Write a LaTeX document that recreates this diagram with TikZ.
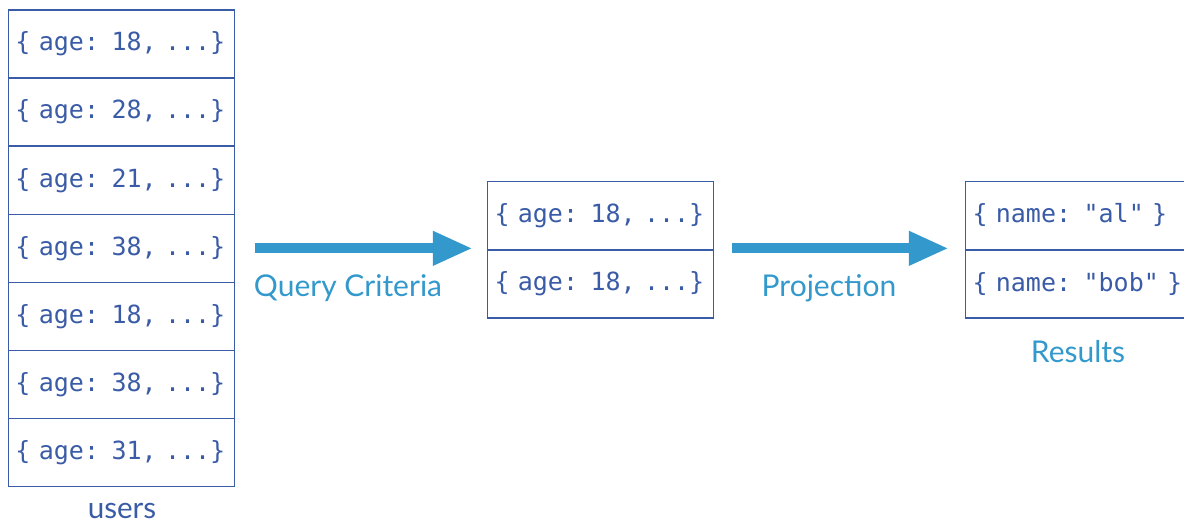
\documentclass[tikz,border=0pt]{standalone}
\usepackage{fontspec}
\setmainfont{Lato}
\setmonofont{DejaVu Sans Mono}
\usetikzlibrary{arrows.meta}
\definecolor{docblue}{HTML}{3A5BA6}
\definecolor{flowblue}{HTML}{3399CC}
\tikzset{
    rec/.style={draw=docblue, line width=0.75pt, text=docblue, font=\ttfamily\fontsize{12.5}{14}\selectfont,
        text width=106pt, inner xsep=3.5pt, minimum height=34pt, align=left},
    bigarrow/.style={draw=flowblue, line width=5pt, -{Triangle[length=20pt, width=16pt]}},
    flowlabel/.style={text=flowblue, font=\fontsize{15}{17}\selectfont},
}
\begin{document}
\begin{tikzpicture}[x=0.5pt, y=-0.5pt]
    \useasboundingbox (0,0) rectangle (1184,525);
    % users collection
    \foreach \age [count=\j] in {18, 28, 21, 38, 18, 38, 31} {
        \node[rec] (u\j) at (121.5, {10 + 68.1*(\j-0.5)}) {\{ age: \age, ...\}};
    }
    \node[text=docblue, font=\fontsize{14.8}{17}\selectfont] (users) at (122, 511) {users};
    % matched documents
    \foreach \age [count=\j] in {18, 18} {
        \node[rec] (m\j) at (600.5, {181 + 68.5*(\j-0.5)}) {\{ age: \age, ...\}};
    }
    % projected documents
    \foreach \who [count=\j] in {al, bob} {
        \node[rec, text width=118pt] (r\j) at (1090.5, {181 + 68.5*(\j-0.5)}) {\{ name: "\who" \}};
    }
    \node[flowlabel] (results) at (1078, 352) {Results};

    \draw[bigarrow, shorten <=10pt, shorten >=7pt] (u4.east) -- (u4.east -| m1.west);
    \draw[bigarrow, shorten <=9pt, shorten >=8pt] (u4.east -| m1.east) -- (u4.east -| r1.west);
    \node[flowlabel] (query) at (348, 288) {Query Criteria};
    \node[flowlabel] (proj) at (829, 288) {Projection};
\end{tikzpicture}
\end{document}
